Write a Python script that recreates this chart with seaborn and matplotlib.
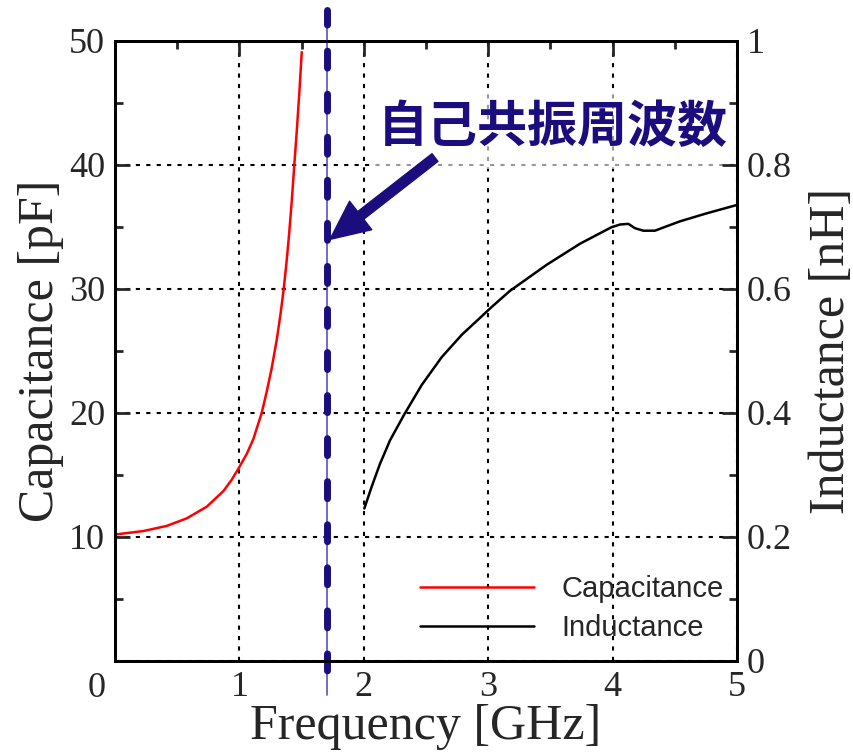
import matplotlib
matplotlib.use("Agg")
import matplotlib.pyplot as plt
import seaborn as sns
from matplotlib.patches import Rectangle
from matplotlib.ticker import MultipleLocator

# Measured capacitance below the self-resonance
freq_cap = [0.0, 0.035, 0.228, 0.415, 0.576, 0.737, 0.871, 0.937, 0.997,
            1.059, 1.112, 1.179, 1.219, 1.259, 1.300, 1.332, 1.356, 1.380,
            1.400, 1.420, 1.441, 1.460, 1.482, 1.501]
cap_pf = [10.2, 10.24, 10.48, 10.89, 11.5, 12.44, 13.7, 14.6, 15.6,
          16.7, 17.9, 20.0, 21.7, 23.6, 25.9, 28.1, 30.0, 32.3,
          34.5, 37.0, 40.0, 42.6, 45.9, 49.1]

# Measured inductance above the self-resonance
freq_ind = [2.004, 2.063, 2.130, 2.211, 2.326, 2.465, 2.626, 2.787, 2.948,
            3.028, 3.175, 3.470, 3.738, 3.990, 4.060, 4.127, 4.180, 4.247,
            4.340, 4.540, 4.756, 5.0]
ind_nh = [0.246, 0.281, 0.318, 0.356, 0.398, 0.445, 0.490, 0.526, 0.556,
          0.571, 0.597, 0.639, 0.673, 0.6995, 0.704, 0.705, 0.698, 0.694,
          0.694, 0.709, 0.722, 0.7355]

f_self_res = 1.70  # GHz

x_ticks = [0, 1, 2, 3, 4, 5]
x_ticklabels = ["", "1", "2", "3", "4", "5"]
cap_ticks = [0, 10, 20, 30, 40, 50]
cap_ticklabels = ["", "10", "20", "30", "40", "50"]
ind_ticks = [0, 0.2, 0.4, 0.6, 0.8, 1.0]
ind_ticklabels = ["0", "0.2", "0.4", "0.6", "0.8", "1"]

NAVY = "#1b0d7e"
SERIF = "Liberation Serif"
TICK_FS = 26
LABEL_FS = 36

sns.set_style("white")
plt.rcParams.update({
    "font.family": [SERIF, "DejaVu Sans"],
    "xtick.direction": "in",
    "ytick.direction": "in",
    "axes.linewidth": 2.0,
    "axes.edgecolor": "black",
})

fig = plt.figure(figsize=(8.54, 7.56), dpi=100)
ax = fig.add_axes([0.1347, 0.1257, 0.7283, 0.8201])
ax2 = ax.twinx()

sns.lineplot(x=freq_cap, y=cap_pf, ax=ax, color="#ff0000", lw=1.8,
             sort=False, label="Capacitance", legend=False)
sns.lineplot(x=freq_ind, y=ind_nh, ax=ax2, color="black", lw=1.8,
             sort=False, label="Inductance", legend=False)

ax.set_xlim(0, 5)
ax.set_ylim(0, 50)
ax2.set_ylim(0, 1)

ax.set_xticks(x_ticks)
ax.set_xticklabels(x_ticklabels)
ax.set_yticks(cap_ticks)
ax.set_yticklabels(cap_ticklabels)
ax2.set_yticks(ind_ticks)
ax2.set_yticklabels(ind_ticklabels)
ax.xaxis.set_minor_locator(MultipleLocator(0.5))
ax.yaxis.set_minor_locator(MultipleLocator(5))
ax2.yaxis.set_minor_locator(MultipleLocator(0.1))

for a in (ax, ax2):
    a.tick_params(which="major", length=11, width=2, labelsize=TICK_FS,
                  top=True, pad=7)
    a.tick_params(which="minor", length=6, width=2, top=True)
ax.tick_params(which="both", right=False)
ax2.tick_params(which="both", left=False, right=True)
for lbl in ax.get_xticklabels() + ax.get_yticklabels() + ax2.get_yticklabels():
    lbl.set_fontfamily(SERIF)

# shared origin label
ax.annotate("0", xy=(0, 0), xycoords="axes fraction", xytext=(-13, -8),
            textcoords="offset points", ha="center", va="top",
            fontsize=TICK_FS, family=SERIF)

ax.grid(True, which="major", color="black", linestyle=(0, (2, 3)), lw=1.5)
ax2.grid(False)

ax.set_xlabel("Frequency [GHz]", fontsize=LABEL_FS, family=SERIF, labelpad=0)
ax.set_ylabel("Capacitance [pF]", fontsize=LABEL_FS, family=SERIF, labelpad=4)
ax2.set_ylabel("Inductance [nH]", fontsize=LABEL_FS, family=SERIF, labelpad=12)

# self-resonance marker
ax.axvline(f_self_res, ymin=-0.055, ymax=1.05, color="#5a50c8", lw=1.2,
           clip_on=False, zorder=4)
ax.axvline(f_self_res, ymin=-0.055, ymax=1.05, color=NAVY, lw=5.0,
           linestyle=(2.66, (2.45, 3.75)), dash_capstyle="round",
           clip_on=False, zorder=4)

# translucent backing behind the annotation text
ax.add_patch(Rectangle((2.09, 39.7), 2.84, 6.35, facecolor="white",
                       edgecolor="none", alpha=0.6, zorder=4.5))

ax2.annotate("", xy=(1.728, 0.680), xytext=(2.572, 0.812),
             arrowprops=dict(width=7, headwidth=26, headlength=28,
                             facecolor=NAVY, edgecolor=NAVY, shrink=0),
             zorder=6)
ax2.text(3.52, 0.861, "自己共振周波数", ha="center", va="center",
         fontsize=36, fontweight="bold", color=NAVY,
         family=["Noto Sans CJK JP", "DejaVu Sans"], zorder=5)

h1, l1 = ax.get_legend_handles_labels()
h2, l2 = ax2.get_legend_handles_labels()
leg = ax2.legend(h1 + h2, l1 + l2, loc="lower right",
                 bbox_to_anchor=(1.021, -0.012), frameon=False,
                 handlelength=3.9, handletextpad=0.95, labelspacing=0.37,
                 prop={"family": "Liberation Sans", "size": 21})

fig.savefig("out.png", dpi=100)
